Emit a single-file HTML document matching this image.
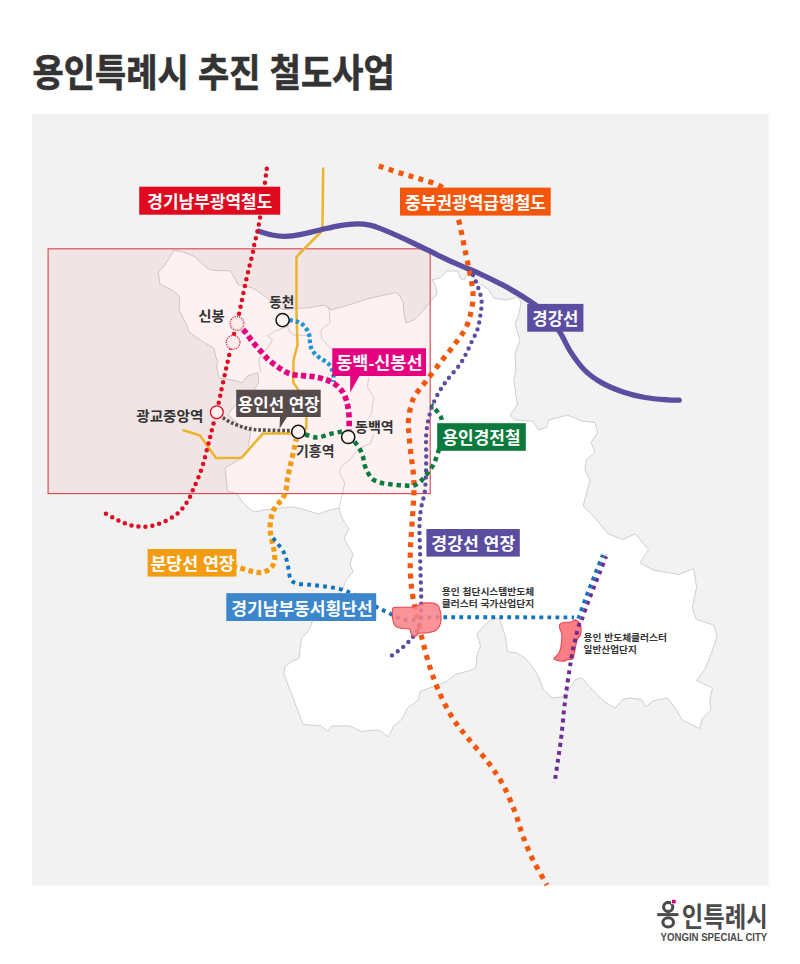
<!DOCTYPE html>
<html lang="ko"><head><meta charset="utf-8"><title>용인특례시 추진 철도사업</title>
<style>html,body{margin:0;padding:0;background:#fff;font-family:"Liberation Sans",sans-serif}body{width:800px;height:964px;overflow:hidden;position:relative}svg{position:absolute;left:0;top:0}</style></head>
<body>
<svg width="800" height="964" viewBox="0 0 800 964" style="display:block">
<rect width="800" height="964" fill="#fff"/>
<rect x="32" y="113.8" width="736.5" height="771.9" fill="#f2f2f2"/>
<path d="M174.1 250.3 L183.2 252 L194.8 256.6 L201.5 263.2 L209.8 269.9 L219.7 270.7 L230.5 270.7 L234.6 278.2 L238 284.8 L244.6 285.6 L252.9 288.1 L262.9 294.8 L270 300.6 L283 309.5 L295 308.8 L310 307.5 L325 305 L330 310 L345 306.2 L367.5 298.8 L396.2 292.5 L400 296 L403 302 L404 314 L406 323 L414 320 L422 312 L430 302 L437 294 L435 284 L432 280 L440 278 L447 271 L458 271 L460 278 L464 280 L468 272 L480 284 L488 289 L494 298 L506 300 L518 297 L521 302 L519 314 L515 324 L520 340 L515 354 L516 370 L513.8 380 L517.5 405 L510 415 L515 420 L532.5 421.2 L538.8 430 L546.2 427.5 L548.8 420 L567.5 415 L582.5 421.2 L595 422.5 L597.5 432.5 L591.2 442.5 L595 452.5 L586.2 460 L585 470 L590 480 L583.2 506 L595 517.8 L608 533.8 L622.5 539.5 L635.5 533.8 L648.5 549.8 L640 562.8 L653 570 L679 574.5 L693.8 568.5 L696.5 587.5 L692.2 607.8 L696.5 619.5 L714 625.2 L717 637 L711 654.2 L705.2 669 L696.5 680.5 L702.5 683.5 L712.5 687.8 L709.8 700.8 L711 709.5 L702.5 718.2 L699.5 728.5 L682 719.8 L676.2 709.5 L667.5 698 L653 700.8 L645.8 706.8 L641.2 699.5 L629.8 698 L622.5 699.5 L615.2 708 L605 702.2 L597.8 695 L588.5 685.5 L581.8 677.6 L575 679.9 L569.4 688.9 L562.6 696.8 L552.5 697.9 L543.5 690 L539 677.6 L532.2 666.4 L525.5 658.5 L516.5 652.9 L507.5 651.8 L505.2 636 L501.9 625.9 L499.6 619 L492.9 618 L484 625.9 L477 633.8 L480.5 646 L477 655 L476 667.5 L469.2 670.9 L455.8 674.2 L446 681.9 L435 686 L419.9 691.5 L418.5 699.8 L407.5 708 L402 719 L393.8 725.9 L388.2 736.9 L381.4 731.4 L375.9 730 L360.8 731.4 L349.8 725.9 L331.9 725.9 L327.8 731.4 L320.9 725.9 L303 724.5 L283.8 673.6 L285.1 666.8 L292 661.2 L298.9 658.5 L301.6 637.9 L308.5 631 L312.6 621.4 L322 610 L335 600 L343 589 L346 580 L353 572 L350 564 L353 554 L347 544 L344 538 L349 529 L342 518 L339 508 L330 510 L318 514 L306 510 L294 507 L280 508 L264 510 L254 512 L247 507 L241 500 L237 494 L227.4 491 L225 468 L241.5 458 L251 448 L248 445 L250 437 L251.5 425.5 L248 431 L240 425 L228 415 L231 410 L236 405 L250 400 L254 390 L258.7 382.7 L257.9 372.8 L247.1 376.1 L242.1 382.7 L233 380.2 L218.9 377.8 L216.4 366.1 L218 362.8 L215.6 356.2 L213.9 347.9 L204.8 342.9 L189.8 332.9 L184.9 321.3 L179 309.7 L179.9 296.4 L171.6 289.8 L160 284 L158.3 272.4 L164.9 264.9Z" fill="#fff" stroke="#cfcfcf" stroke-width="1" stroke-linejoin="round"/>
<path d="M329 306.2 L330 322.8 L320.8 330.1 L321.8 338.4 L329 346.7 L332.5 349" fill="none" stroke="#d6d6d6" stroke-width="1" stroke-linejoin="round"/>
<path d="M289 326 L275 331 L267.5 336 L272.5 340 L267.5 347.5 L258.8 358.8 L260.5 372.5" fill="none" stroke="#d6d6d6" stroke-width="1" stroke-linejoin="round"/>
<path d="M287.5 327 L290 332.5 L293.8 335 L307.5 335.6 L310 338.8" fill="none" stroke="#d6d6d6" stroke-width="1" stroke-linejoin="round"/>
<path d="M368.5 377.8 L367.5 387.2 L373.7 397.6 L371.6 412.1 L368.5 418.3" fill="none" stroke="#d6d6d6" stroke-width="1" stroke-linejoin="round"/>
<path d="M373.7 434.9 L370.6 443.2 L358.1 449.5 L349.8 459.8 L341.5 466.1 L339.4 472.3 L344.6 482.7 L342.6 493.1 L339 508" fill="none" stroke="#d6d6d6" stroke-width="1" stroke-linejoin="round"/>
<rect x="48.1" y="248.8" width="382.1" height="244.8" fill="#e6212d" fill-opacity="0.062" stroke="#dd4a53" stroke-width="1.15"/>
<path d="M323.2 167.5 L322.5 225 L321 232 L300 253 L296.5 257.5 L296.5 315 L297.5 345 L293.5 360 L293.2 382.5 L296.2 386.5 L306.5 405 L306.3 428 L303 433.6 L262.8 433.6 L241.5 457.8 L216 458 L200 435.5 L182.5 430" fill="none" stroke="#ebb42c" stroke-width="2.5" stroke-linecap="butt" stroke-linejoin="round"/>
<path d="M259 231.3 C261.2 231.9 267.7 234.2 272 235 C276.3 235.8 280.3 236.4 285 236.3 C289.7 236.2 294.2 235.7 300 234.6 C305.8 233.5 313.3 231.5 320 230 C326.7 228.5 333.8 226.6 340 225.6 C346.2 224.6 352.5 223.9 357.5 223.8 C362.5 223.7 366.2 224.4 370 225.2 C373.8 226 374.2 226.1 380 228.4 C385.8 230.7 396.7 235.4 405 239.2 C413.3 243.1 421.7 247.2 430 251.2 C438.3 255.2 446.7 259.5 455 263.2 C463.3 267 471.7 270 480 273.8 C488.3 277.6 497 281.9 505 286.2 C513 290.6 521.3 295.5 528 300 C534.7 304.5 539.7 307.7 545 313 C550.3 318.3 555.5 325.5 559.8 332 C564 338.5 566.6 345.8 570.8 352.1 C574.9 358.4 579.5 364.9 584.5 370 C589.5 375.1 594.6 378.7 601 382.4 C607.4 386.1 615.7 389.5 623 392 C630.3 394.5 637.7 396.2 645 397.5 C652.3 398.8 661.3 399.4 667 399.8 C672.7 400.2 677.2 400.1 679.3 400.2" fill="none" stroke="#5b4ea1" stroke-width="5.3" stroke-linecap="round" stroke-linejoin="round"/>
<path d="M378.8 166 C382.3 167.2 393.1 170.8 400 173 C406.9 175.2 413.3 176.8 420 179 C426.7 181.2 435 183 440 186 C445 189 447 191.8 450 197 C453 202.2 455.5 208.7 458 217.5 C460.5 226.3 462.7 239.2 465 250 C467.3 260.8 470.3 274.2 471.6 282 C472.9 289.8 473.1 292 473 297 C472.9 302 472.2 306.9 471 312 C469.8 317.1 468.5 322.4 466 327.5 C463.5 332.6 459.9 337.1 456 342.5 C452.1 347.9 447.3 353.5 442.3 360 C437.3 366.5 430.9 374.8 426 381.2 C421.1 387.8 416.1 392.5 413.2 399 C410.3 405.5 409.2 414 408.5 420 C407.8 426 408.6 429.2 409 435 C409.4 440.8 410.2 448.3 411 455 C411.8 461.7 413 468.3 413.5 475 C414 481.7 414 486.7 413.8 495 C413.5 503.3 412.6 515.8 412 525 C411.4 534.2 410.6 541.7 410.4 550 C410.1 558.3 410.1 567.1 410.5 575 C410.9 582.9 411.6 589.2 413 597.5 C414.4 605.8 416.2 614.4 418.8 625 C421.3 635.6 424.9 650.6 428.1 661.2 C431.3 671.9 433.9 679.6 437.8 688.8 C441.6 697.9 446.5 708 451.5 716.2 C456.5 724.5 461.8 730.5 468 738.2 C474.2 746 482.6 755 488.6 763 C494.6 771 499.4 778.1 503.8 786.2 C508.1 794.4 511.9 803.9 515 812 C518.1 820.1 519.5 827 522.5 835 C525.5 843 528.9 851.7 533 860 C537.1 868.3 544.7 880.8 547 885" fill="none" stroke="#f4560c" stroke-width="5.2" stroke-linecap="butt" stroke-linejoin="round" stroke-dasharray="5 5.4"/>
<path d="M473 275 C473.8 277 476.6 282.7 478 287 C479.4 291.3 481.2 296.3 481.6 301 C482 305.7 481.1 310.3 480.4 315 C479.7 319.7 479.1 324.5 477.6 329 C476.1 333.5 474.3 336.4 471.6 342 C468.9 347.6 465.4 356 461.2 362.5 C457 369 450.4 375.4 446.2 381.2 C442 387.1 438.8 391.9 436 397.5 C433.2 403.1 431.1 408.8 429.5 415 C427.9 421.2 426.8 427.1 426.2 435 C425.7 442.9 426.5 453.3 426.2 462.5 C426 471.7 425.8 482.5 425 490 C424.2 497.5 422.2 501.7 421.2 507.5 C420.3 513.3 419.7 517.9 419.5 525 C419.3 532.1 419.8 541.7 420 550 C420.2 558.3 420.4 567.2 420.6 575 C420.8 582.8 421.2 590.8 421.2 597 C421.3 603.2 421.4 606.9 421 612 C420.6 617.1 420.2 623.2 418.8 627.5 C417.3 631.8 415.2 634.2 412.5 637.5 C409.8 640.8 405.8 644.6 402.5 647.5 C399.2 650.4 395.1 653 392.5 655 C389.9 657 387.8 658.6 386.9 659.3" fill="none" stroke="#5b4ea1" stroke-width="4.4" stroke-linecap="round" stroke-linejoin="round" stroke-dasharray="0 7.03"/>
<path d="M266.8 168.8 C265.6 177 262.1 205.3 260 218 C257.9 230.7 255.5 239.2 254.2 245 C253 250.8 254 247.2 252.7 253 C251.4 258.8 248.6 269.7 246.2 280 C243.9 290.3 240.8 305.8 238.8 315 C236.7 324.2 235.6 327.1 233.8 335 C231.9 342.9 229.4 354.2 227.5 362.5 C225.6 370.8 224 378.3 222.5 385 C221 391.7 220.4 395.4 218.8 402.5 C217.1 409.6 214.4 420 212.5 427.5 C210.6 435 209.4 440.4 207.5 447.5 C205.6 454.6 203.8 462.8 201.2 470 C198.8 477.2 194.8 485.8 192.5 491 C190.2 496.2 189.8 497.7 187.5 501.2 C185.2 504.8 182.1 509.4 178.8 512.5 C175.4 515.6 171.5 517.9 167.5 520 C163.5 522.1 159.2 523.9 155 525 C150.8 526.1 146.7 526.8 142.5 526.8 C138.3 526.8 134.2 526.1 130 525 C125.8 523.9 121.9 522.1 117.5 520 C113.1 517.9 106 513.8 103.8 512.5" fill="none" stroke="#df0a1f" stroke-width="4.5" stroke-linecap="round" stroke-linejoin="round" stroke-dasharray="0 7.03"/>
<path d="M289.5 319.8 C291 320.2 296.4 321.3 298.8 322.2 C301.1 323.2 302.3 324.2 303.8 325.6 C305.2 327 306.5 328.8 307.5 330.6 C308.5 332.4 309.2 334.6 309.6 336.6 C310 338.6 309.7 340.7 310 342.8 C310.3 344.8 310.7 346.9 311.5 348.8 C312.3 350.6 313.6 352.2 315 353.8 C316.4 355.3 318.2 356.8 320 358.1 C321.8 359.4 323.9 360.2 325.6 361.5 C327.3 362.8 328.9 364 330 365.6 C331.1 367.2 331.9 369.3 332.5 371.2 C333.1 373.2 333.6 375.7 333.8 377.5 C333.9 379.3 333.5 381.2 333.5 382" fill="none" stroke="#1d95d4" stroke-width="4.3" stroke-linecap="butt" stroke-linejoin="round" stroke-dasharray="3.5 2.75"/>
<path d="M243 329.5 C243.5 330.1 244.9 331.4 246.2 333.1 C247.6 334.9 249.5 337.7 251.2 340 C253 342.3 254.9 344.6 256.9 346.9 C258.9 349.2 261.1 351.6 263.1 353.8 C265.1 355.9 266.8 358.1 268.8 360 C270.7 361.9 272.8 363.4 275 365 C277.2 366.6 279.6 368.3 281.9 369.8 C284.2 371.2 286.4 372.6 289 373.5 C291.6 374.4 294.7 374.9 297.5 375.2 C300.3 375.6 303.1 375.6 306 375.9 C308.9 376.2 312.1 376.4 315 376.9 C317.9 377.4 320.4 377.9 323.1 378.8 C325.8 379.6 328.8 380.6 331.2 381.9 C333.7 383.2 336 384.6 338 386.5 C340 388.4 341.8 390.3 343.3 393 C344.8 395.7 346.1 398.8 347 402.5 C347.9 406.2 348.6 410.4 349 415 C349.4 419.6 349.1 427.5 349.1 430" fill="none" stroke="#e4007f" stroke-width="5.6" stroke-linecap="butt" stroke-linejoin="round" stroke-dasharray="5.2 3.3"/>
<path d="M222.8 417.8 C224.4 418.7 229.1 421.6 232.5 423.2 C235.9 424.8 240.1 426.3 243.5 427.3 C246.9 428.3 249.2 428.9 253.1 429.4 C257 429.9 261.2 430 266.9 430.2 C272.6 430.4 283.3 430.5 287.5 430.6 C291.7 430.7 291.2 430.8 292 430.8" fill="none" stroke="#554b4b" stroke-width="3.6" stroke-linecap="butt" stroke-linejoin="round" stroke-dasharray="2.75 2"/>
<path d="M305 434.5 C307.1 435 313.3 437.6 317.5 437.5 C321.7 437.4 325.9 435 330 434 C334.1 433 340 431.9 342 431.5" fill="none" stroke="#0b7a3c" stroke-width="4.5" stroke-linecap="butt" stroke-linejoin="round" stroke-dasharray="4.5 3.9"/>
<path d="M354.5 441.5 C355.3 442.7 358.1 446.1 359.5 448.5 C360.9 450.9 362 453.3 362.8 456 C363.6 458.7 363.7 461.8 364.5 464.5 C365.3 467.2 366.2 469.6 367.5 472 C368.8 474.4 370.4 477.2 372.5 479 C374.6 480.8 377.4 481.7 380 482.5 C382.6 483.3 385.2 483.6 388 484 C390.8 484.4 393.7 484.8 396.5 485 C399.3 485.2 402.2 485.4 405 485.5 C407.8 485.6 410.9 486.3 413.5 485.6 C416.1 484.9 418.1 483.7 420.5 481.5 C422.9 479.3 425.8 475.5 428 472.5 C430.2 469.5 432.1 467.1 433.8 463.8 C435.4 460.4 436.8 456.5 438 452.5 C439.2 448.5 440.3 445.2 441 440 C441.7 434.8 442.4 425.6 442 421.2 C441.6 416.9 440.5 416.5 438.8 413.8 C437 411 432.5 406 431.2 404.5" fill="none" stroke="#0b7a3c" stroke-width="4.5" stroke-linecap="butt" stroke-linejoin="round" stroke-dasharray="4.5 3.9"/>
<path d="M296.5 439 C296.4 439.4 297.1 435.4 295.8 441.1 C294.5 446.8 290.1 466.6 288.6 473.4 C287.1 480.2 287.4 479.2 287 482 C286.6 484.8 286.7 487.3 286 490 C285.3 492.7 284.3 495.7 283 498 C281.7 500.3 279.7 501.8 278 504 C276.3 506.2 274.2 508.5 273 511 C271.8 513.5 271.5 516.2 271 519 C270.5 521.8 270 525.2 270 528 C270 530.8 270.5 533.2 271 536 C271.5 538.8 272.4 542.2 273 545 C273.6 547.8 274.2 550.3 274.4 553 C274.6 555.7 275 558.5 274.4 561 C273.8 563.5 272.9 566.1 271 568 C269.1 569.9 265.7 571.7 263 572.4 C260.3 573.1 257.7 572.4 255 572 C252.3 571.6 249.7 570.7 247 570 C244.3 569.3 240.8 568.1 239 567.6 C237.2 567.1 236.5 566.9 236 566.7" fill="none" stroke="#f39c12" stroke-width="5.2" stroke-linecap="butt" stroke-linejoin="round" stroke-dasharray="4.8 3.45"/>
<path d="M273 538 C273.8 539 276.3 541.8 278 544 C279.7 546.2 281.7 548.7 283 551 C284.3 553.3 285.2 555.5 286 558 C286.8 560.5 287.5 563.5 288 566 C288.5 568.5 288.5 570.7 289 573 C289.5 575.3 289.7 578.2 291 580 C292.3 581.8 294.7 582.9 297 583.6 C299.3 584.3 302.3 584.2 305 584.4 C307.7 584.6 310.3 584.7 313 585 C315.7 585.3 318.3 585.7 321 586 C323.7 586.3 326.3 586.6 329 587 C331.7 587.4 334.3 587.8 337 588.4 C339.7 589 342.5 589.5 345 590.4 C347.5 591.3 349.2 592.2 352 593.6 C354.8 595 357.3 596.5 362 599 C366.7 601.5 375.6 606.5 380 608.8 C384.4 611 385.8 611.2 388.2 612.5 C390.8 613.8 392.5 615.3 395 616.5 C397.5 617.7 400.3 618.9 403 619.5 C405.7 620.1 408.2 620.4 411 620.2 C413.8 620 416.1 618.8 420 618.3 C423.9 617.8 430.8 617.1 434.6 616.9 C438.4 616.7 432.1 617.1 443 617.2 C453.9 617.3 478.2 617.3 500 617.3 C521.8 617.3 561.7 617.4 574 617.4" fill="none" stroke="#1173bd" stroke-width="3.9" stroke-linecap="butt" stroke-linejoin="round" stroke-dasharray="3.8 4.2"/>
<path d="M578.2 618.7 C578.3 618.4 577.9 619.8 578.9 616.9 C579.9 614 582.5 606.4 584.4 601.3 C586.3 596.2 588.3 591.3 590.2 586.3 C592.2 581.3 594.3 576.2 596.2 571.3 C598.2 566.4 600.9 559.5 602 556.8 C603.1 554.1 602.6 555.2 602.7 554.9" fill="none" stroke="#1173bd" stroke-width="3.8" stroke-linecap="butt" stroke-linejoin="round" stroke-dasharray="3.9 4.3"/>
<path d="M581.8 620.1 C581.9 619.7 581.5 621 582.5 618.1 C583.5 615.2 586.1 607.7 588 602.7 C589.9 597.6 591.8 592.7 593.8 587.7 C595.7 582.7 597.8 577.6 599.8 572.7 C601.7 567.8 604.4 560.9 605.5 558.2 C606.6 555.5 606.1 556.6 606.3 556.3" fill="none" stroke="#6f2c91" stroke-width="3.8" stroke-linecap="butt" stroke-linejoin="round" stroke-dasharray="3.9 4.3"/>
<path d="M559.8 624.4 C560.5 623.4 562.4 622.6 564.2 622.3 C566 621.9 568.7 622.7 570.4 622.3 C572.1 621.9 573.5 620.1 574.6 619.9 C575.8 619.7 576.4 620.3 577.3 620.9 C578.2 621.5 579.5 622.3 580.1 623.7 C580.7 625.1 581.1 627.4 581.1 629.2 C581.1 631 581 633 580.4 634.7 C579.8 636.4 578 637.8 577.3 639.5 C576.5 641.2 576.3 642.9 575.9 645 C575.5 647.1 575.1 649.6 574.6 651.9 C574.1 654.2 573.9 657.5 572.8 658.7 C571.6 660 569.1 659 567.7 659.4 C566.3 659.8 565.7 660.9 564.2 661.1 C562.7 661.3 560.3 661.1 558.7 660.8 C557.1 660.5 555.3 659.9 554.6 659.4 C553.9 658.9 553.6 659 554.3 658 C555 657 557.6 654.9 558.7 653.2 C559.8 651.5 560.3 649.8 560.8 647.7 C561.3 645.7 561.3 643.2 561.5 640.9 C561.7 638.6 562.1 636.1 561.8 634 C561.5 631.9 560.1 630.1 559.8 628.5 C559.5 626.9 559.1 625.4 559.8 624.4Z" fill="#fa7e84" stroke="#ec4450" stroke-width="1.1"/>
<path d="M579.6 623 C579.1 624.7 577.6 630.1 576.8 633 C576 635.9 575.6 637.9 575 640.5 C574.4 643.1 573.6 645.8 573 648.5 C572.4 651.2 572.1 653.4 571.5 657 C570.9 660.6 570.3 664.5 569.5 670 C568.7 675.5 567.4 683.3 566.5 690 C565.6 696.7 564.8 702.5 564 710 C563.2 717.5 562.5 726.7 561.5 735 C560.5 743.3 559.2 752 558 760 C556.8 768 555.1 779.2 554.5 783" fill="none" stroke="#6f2c91" stroke-width="4" stroke-linecap="butt" stroke-linejoin="round" stroke-dasharray="4 4.1"/>
<path d="M392.7 609.2 C393 608.1 392.5 607.9 393.9 607.6 C395.3 607.3 398.4 607.3 401.3 607.2 C404.2 607.1 408.3 607.5 411 607.2 C413.7 606.9 415.3 606.3 417.5 605.6 C419.7 604.9 421.4 603.5 424 603.1 C426.6 602.7 430.7 602.8 433 603.1 C435.3 603.5 436.6 603.8 437.8 605.2 C439 606.6 439.8 608.9 440.3 611.3 C440.9 613.7 441.2 617 441.1 619.4 C441 621.8 440.4 624 439.5 625.9 C438.6 627.8 437.4 629.6 435.4 630.8 C433.4 631.9 430 632.4 427.3 632.8 C424.6 633.2 420.9 632.7 419.1 633.2 C417.3 633.7 417.3 635.2 416.3 635.7 C415.3 636.2 413.9 636.4 413 636 C412.1 635.6 411.6 634.4 411 633.2 C410.4 632.1 411 629.9 409.4 629.1 C407.8 628.3 403.6 628.8 401.3 628.3 C399 627.8 397 627.5 395.6 626.3 C394.2 625.1 393.7 623 393.1 621 C392.6 619 392.4 616.5 392.3 614.5 C392.2 612.5 392.4 610.4 392.7 609.2Z" fill="#fa8288" fill-opacity="0.86" stroke="#ec4450" stroke-width="1.1"/>
<circle cx="237" cy="323.4" r="6.9" fill="#fdecec" stroke="#df0a1f" stroke-width="1.2" stroke-dasharray="1.1 1.2"/>
<circle cx="233.1" cy="342.3" r="6.9" fill="#fdecec" stroke="#df0a1f" stroke-width="1.2" stroke-dasharray="1.1 1.2"/>
<circle cx="216.8" cy="412.2" r="6.4" fill="#fdf2f2" stroke="#df0a1f" stroke-width="1.3"/>
<circle cx="282.6" cy="320.1" r="6.6" fill="#fdf3f3" stroke="#111" stroke-width="1.5"/>
<circle cx="298.3" cy="431.9" r="6.6" fill="#fdf3f3" stroke="#111" stroke-width="1.5"/>
<circle cx="348.2" cy="437" r="6.6" fill="#fdf3f3" stroke="#111" stroke-width="1.5"/>
<rect x="139.2" y="186.7" width="141" height="28" fill="#df0a1f"/>
<rect x="400" y="187.6" width="150.7" height="28" fill="#f4560c"/>
<rect x="527.2" y="303.9" width="56.2" height="27.8" fill="#5b4ea1"/>
<path d="M332.3 348.3 H426 V376 H359.4 L350.2 392.5 L350.2 376 H332.3 Z" fill="#e4007f"/>
<path d="M236.2 389.8 H320.7 V417 H287 L279.5 428.8 L280 417 H236.2 Z" fill="#554b4b"/>
<rect x="437.2" y="423.2" width="88.6" height="27.6" fill="#0b7a3c"/>
<rect x="426.4" y="529" width="93.4" height="27.6" fill="#5b4ea1"/>
<rect x="147.6" y="549" width="88.8" height="27.6" fill="#f39c12"/>
<rect x="226.3" y="593.2" width="149.9" height="27.8" fill="#3c87cb"/>
<rect x="657.3" y="913.1" width="21.1" height="3" fill="#4b4b4b"/>
<ellipse cx="668.2" cy="907" rx="4.6" ry="4.6" fill="none" stroke="#4b4b4b" stroke-width="3.1"/>
<ellipse cx="668.2" cy="922.4" rx="5.3" ry="4.6" fill="none" stroke="#4b4b4b" stroke-width="3.1"/>
<rect x="671.2" y="899" width="5.3" height="5.2" fill="#fff"/>
<rect x="672" y="899.8" width="3.7" height="3.6" fill="#d6007f"/>
<g font-family="'Liberation Sans', 'Noto Sans CJK KR', sans-serif" font-weight="bold">
<text x="32.6" y="86" font-size="38" fill="#333333" stroke="#333333" stroke-width="0.7" stroke-linejoin="round" textLength="362" lengthAdjust="spacingAndGlyphs">용인특례시 추진 철도사업</text>
<text x="147.3" y="207.5" font-size="17" fill="#fff" textLength="125" lengthAdjust="spacingAndGlyphs">경기남부광역철도</text>
<text x="405" y="208.5" font-size="17" fill="#fff" textLength="141" lengthAdjust="spacingAndGlyphs">중부권광역급행철도</text>
<text x="532.3" y="324.5" font-size="17" fill="#fff" textLength="46" lengthAdjust="spacingAndGlyphs">경강선</text>
<text x="336.2" y="369" font-size="17" fill="#fff" textLength="86.4" lengthAdjust="spacingAndGlyphs">동백-신봉선</text>
<text x="237.8" y="410.5" font-size="17" fill="#fff" textLength="82" lengthAdjust="spacingAndGlyphs">용인선 연장</text>
<text x="442.5" y="444" font-size="17" fill="#fff" textLength="78" lengthAdjust="spacingAndGlyphs">용인경전철</text>
<text x="431.3" y="550" font-size="17" fill="#fff" textLength="84" lengthAdjust="spacingAndGlyphs">경강선 연장</text>
<text x="150.4" y="570" font-size="17" fill="#fff" textLength="84.4" lengthAdjust="spacingAndGlyphs">분당선 연장</text>
<text x="231.2" y="614.5" font-size="17" fill="#fff" textLength="141.6" lengthAdjust="spacingAndGlyphs">경기남부동서횡단선</text>
<text x="198.3" y="321" font-size="14" fill="#333333" textLength="26.5" lengthAdjust="spacingAndGlyphs">신봉</text>
<text x="269.3" y="306.5" font-size="14" fill="#333333" textLength="25" lengthAdjust="spacingAndGlyphs">동천</text>
<text x="136.3" y="420.5" font-size="14" fill="#333333" textLength="67" lengthAdjust="spacingAndGlyphs">광교중앙역</text>
<text x="296.1" y="456" font-size="14" fill="#333333" textLength="38.3" lengthAdjust="spacingAndGlyphs">기흥역</text>
<text x="355" y="431.5" font-size="14" fill="#333333" textLength="38.8" lengthAdjust="spacingAndGlyphs">동백역</text>
<text x="441.8" y="595.3" font-size="9.5" fill="#333333" textLength="92.4" lengthAdjust="spacingAndGlyphs">용인 첨단시스템반도체</text>
<text x="441.8" y="607.3" font-size="9.5" fill="#333333" textLength="92.4" lengthAdjust="spacingAndGlyphs">클러스터 국가산업단지</text>
<text x="583.6" y="641.4" font-size="9.5" fill="#333333" textLength="83.4" lengthAdjust="spacingAndGlyphs">용인 반도체클러스터</text>
<text x="583.6" y="653" font-size="9.5" fill="#333333" textLength="53.2" lengthAdjust="spacingAndGlyphs">일반산업단지</text>
<text x="681.7" y="926.5" font-size="27" fill="#4b4b4b" textLength="86.1" lengthAdjust="spacingAndGlyphs">인특례시</text>
<text x="660.6" y="940.7" font-size="10" fill="#4b4b4b" textLength="106.7" lengthAdjust="spacingAndGlyphs">YONGIN SPECIAL CITY</text>
</g>
</svg>
</body></html>
